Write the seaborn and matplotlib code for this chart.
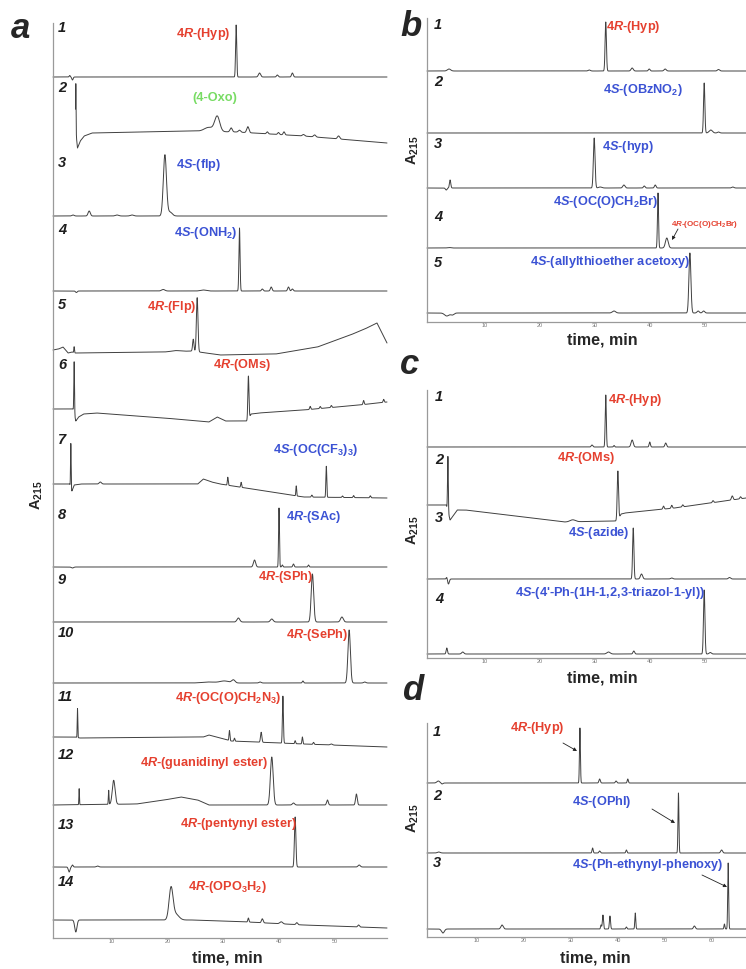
import numpy as np
import pandas as pd
import matplotlib
matplotlib.use("Agg")
import matplotlib.pyplot as plt
import seaborn as sns

# ---------------- DATA (heights in arbitrary A215 units) ----------------
PALETTE = {"red": "#e5402f", "blue": "#3b52d4", "green": "#78dc64"}

# Panel a -------------------------------------------------------------------
A_NUMS = [str(i) for i in range(1, 15)]
A_LABELS = ["4$\\mathit{R}$-(Hyp)", "(4-Oxo)", "4$\\mathit{S}$-(flp)", "4$\\mathit{S}$-(ONH$_\\mathrm{2}$)",
            "4$\\mathit{R}$-(Flp)", "4$\\mathit{R}$-(OMs)", "4$\\mathit{S}$-(OC(CF$_\\mathrm{3}$)$_\\mathrm{3}$)",
            "4$\\mathit{R}$-(SAc)", "4$\\mathit{R}$-(SPh)", "4$\\mathit{R}$-(SePh)",
            "4$\\mathit{R}$-(OC(O)CH$_\\mathrm{2}$N$_\\mathrm{3}$)", "4$\\mathit{R}$-(guanidinyl ester)",
            "4$\\mathit{R}$-(pentynyl ester)", "4$\\mathit{R}$-(OPO$_\\mathrm{3}$H$_\\mathrm{2}$)"]
A_COLORS = ["red", "green", "blue", "blue", "red", "red", "blue", "blue", "red", "red", "red", "red", "red", "red"]
A_START = [0, 4.05, 0, 0, 0, 0, 0, 0, 0, 0, 0, 0, 0, 0]
A_PEAK_T = [[3.0, 3.5, 32.9, 37.1, 40.3, 43.0],
            [4.1, 28.0, 29.5, 32.0, 33.5, 35.0, 38.5, 40.5, 41.5, 45.0, 47.0, 51.3],
            [3.6, 6.5, 11.5, 14.2, 20.1, 21.0],
            [4.2, 19.8, 27.0, 33.5, 37.6, 39.2, 42.3, 43.0],
            [3.8, 22.0, 25.2, 25.9],
            [3.8, 35.1, 46.2, 48.0, 50.0, 55.8, 59.4],
            [3.2, 8.5, 31.4, 33.8, 43.7, 46.5, 49.1, 52.0, 54.0, 57.0],
            [3.5, 36.2, 40.6, 41.2, 43.2, 45.9],
            [33.3, 39.3, 46.6, 51.9],
            [28.0, 30.8, 32.4, 37.2, 44.9, 53.2, 56.0],
            [4.4, 31.7, 32.6, 37.4, 41.3, 43.5, 44.8, 46.8, 50.0],
            [4.7, 10.0, 10.9, 39.3, 43.2, 49.3, 54.5],
            [2.9, 3.5, 8.0, 43.5, 55.0],
            [4.1, 21.2, 22.0, 35.1, 37.6, 41.0, 43.8, 54.9]]
A_PEAK_H = [[1.5, -3, 52, 4, 2, 4],
            [50, 4, 15, 4, 2, 6, 2, 2, 3, 1.5, 2, 3],
            [1, 5, 1, 1, 61, 4],
            [-1.5, 1.5, 1, 63, 2, 4, 4, 2],
            [6, 1, 12, 54],
            [52, 43, 3, 2, 2, 4, 3],
            [44, 2, 8, 5, 10, 2, 31, 1.5, 2, 2],
            [-1, 7, 59, 2, 3, 2],
            [4, 3, 48, 5],
            [1, 2, 3, 1, 2, 53, 1],
            [29, 10, 3, 10, 47, 3, 7, 2, 1],
            [16, 14, 24, 48, 2, 5, 11],
            [-5, 2, 1, 50, 2],
            [-12, 31, 6, 4, 4, 2, 2, 2]]
A_PEAK_W = [[0.1, 0.12, 0.1, 0.2, 0.15, 0.15],
            [0.04, 0.8, 0.45, 0.2, 0.2, 0.2, 0.15, 0.15, 0.15, 0.2, 0.2, 0.2],
            [0.2, 0.2, 0.3, 0.3, 0.28, 0.4],
            [0.15, 0.3, 0.5, 0.1, 0.15, 0.15, 0.15, 0.15],
            [0.06, 0.8, 0.12, 0.14],
            [0.06, 0.1, 0.1, 0.1, 0.1, 0.1, 0.1],
            [0.05, 0.2, 0.08, 0.08, 0.07, 0.1, 0.08, 0.1, 0.1, 0.1],
            [0.2, 0.2, 0.08, 0.1, 0.12, 0.1],
            [0.25, 0.25, 0.22, 0.25],
            [1.2, 0.8, 0.3, 0.2, 0.12, 0.22, 0.2],
            [0.05, 0.08, 0.08, 0.12, 0.09, 0.08, 0.08, 0.1, 0.2],
            [0.05, 0.06, 0.25, 0.25, 0.2, 0.15, 0.15],
            [0.15, 0.12, 0.2, 0.13, 0.2],
            [0.2, 0.35, 0.6, 0.1, 0.15, 0.25, 0.15, 0.15]]
A_BASE_T = [[0, 60], [4.05, 4.2, 4.4, 4.9, 5.6, 7, 15, 25, 33, 45, 60], [0, 60], [0, 60],
            [0, 1, 1.8, 2.7, 3.4, 4.0, 20, 25, 30, 40, 47.5, 53.4, 56, 58.2, 60],
            [0, 3.6, 4.1, 4.6, 5.5, 7.8, 20, 28, 29.5, 31, 34.9, 35.6, 37, 45, 55, 60],
            [0, 3.0, 3.4, 3.8, 5, 26, 27, 28.5, 30, 45, 60],
            [0, 60], [0, 60], [0, 60],
            [0, 4.0, 4.8, 27, 28, 32, 45, 60],
            [0, 15, 20, 23, 26, 28, 60],
            [0, 60],
            [0, 25, 35, 45, 55, 60]]
A_BASE_Y = [[0, 0], [0, -5, -16, -9, -4, -1, 0, 1, 0, -4, -11], [0, 0], [0, 0],
            [3, 4, 6, 0, 1, 0, 1, 2, -2, -1, 6, 18, 24, 30, 10],
            [4, 4, -8, -4, -1, 0, -5, -9, -4, -8, -8, -1, 0, 3, 8, 11],
            [0, 0, -7, -1, 0, 0, 5, 2, 0, -13, -14],
            [0, 0], [0, 0], [0, 0],
            [0, 0, -1, 0, 2, -4, -7, -10],
            [0, 1, 5, 8, 5, 0, 0],
            [0, 0],
            [0, 0, -2, -5, -7, -8]]

# Panel b -------------------------------------------------------------------
B_NUMS = ["1", "2", "3", "4", "5"]
B_LABELS = ["4$\\mathit{R}$-(Hyp)", "4$\\mathit{S}$-(OBzNO$_\\mathrm{2}$)", "4$\\mathit{S}$-(hyp)",
            "4$\\mathit{S}$-(OC(O)CH$_\\mathrm{2}$Br)", "4$\\mathit{S}$-(allylthioether acetoxy)"]
B_COLORS = ["red", "blue", "blue", "blue", "blue"]
B_PEAK_T = [[4.0, 29.5, 32.5, 37.3, 40.4, 43.3, 53.0],
            [50.4, 51.6, 53.0],
            [3.5, 4.2, 30.4, 31.5, 35.8, 39.5, 41.5, 55.6],
            [4.0, 42.0, 43.6],
            [3.6, 4.6, 34.0, 47.8, 49.3, 50.3]]
B_PEAK_H = [[2, 1, 49, 3, 2, 2, 1.5],
            [50, 3, 1],
            [-2, 8, 50, 1, 3, 2, 3, 1],
            [0.5, 55, 10],
            [-3, -2, 2, 60, 2, 2]]
B_PEAK_W = [[0.3, 0.2, 0.12, 0.2, 0.15, 0.2, 0.2],
            [0.12, 0.3, 0.2],
            [0.15, 0.12, 0.15, 0.3, 0.2, 0.15, 0.15, 0.2],
            [0.3, 0.1, 0.25],
            [0.4, 0.3, 0.3, 0.18, 0.2, 0.2]]

# Panel c -------------------------------------------------------------------
C_NUMS = ["1", "2", "3", "4"]
C_LABELS = ["4$\\mathit{R}$-(Hyp)", "4$\\mathit{R}$-(OMs)", "4$\\mathit{S}$-(azide)",
            "4$\\mathit{S}$-(4'-Ph-(1H-1,2,3-triazol-1-yl))"]
C_COLORS = ["red", "red", "blue", "blue"]
C_PEAK_T = [[30.0, 32.5, 34.0, 37.3, 40.5, 43.4],
            [3.8, 26.5, 34.7, 43.0, 44.5, 46.5, 52.0, 55.5, 57.0],
            [3.6, 3.9, 37.5, 39.0, 44.5, 55.0],
            [3.6, 6.5, 33.0, 37.6, 50.4, 51.5]]
C_PEAK_H = [[2, 52, 1.5, 7, 5, 4],
            [55, 2, 49, 3, 3, 2, 2, 4, 2],
            [2, -5, 51, 5, 1, 1.5],
            [6, 2, 2, 3, 64, 1.5]]
C_PEAK_W = [[0.15, 0.1, 0.1, 0.2, 0.12, 0.15],
            [0.07, 0.5, 0.12, 0.12, 0.12, 0.12, 0.12, 0.15, 0.12],
            [0.1, 0.15, 0.12, 0.2, 0.2, 0.2],
            [0.12, 0.2, 0.3, 0.15, 0.13, 0.2]]
C_BASE_T = [[0, 58], [0, 3.5, 4.2, 5.5, 7, 25, 33, 34.6, 35.3, 36, 45, 58], [0, 58], [0, 58]]
C_BASE_Y = [[0, 0], [2, 2, -13, -3, -3, -15, -14, -14, -7, -6, -1, 9], [0, 0], [0, 0]]

# Panel d -------------------------------------------------------------------
D_NUMS = ["1", "2", "3"]
D_LABELS = ["4$\\mathit{R}$-(Hyp)", "4$\\mathit{S}$-(OPhI)", "4$\\mathit{S}$-(Ph-ethynyl-phenoxy)"]
D_COLORS = ["red", "blue", "blue"]
D_PEAK_T = [[2.4, 3.2, 32.6, 36.8, 40.3, 42.8],
            [2.5, 35.3, 36.8, 42.5, 53.6, 62.8],
            [3.4, 16.0, 37.1, 37.5, 39.0, 42.5, 44.4, 57.0, 63.4, 64.2]]
D_PEAK_H = [[2, -1, 55, 4, 2, 4],
            [1, 5, 2, 3, 60, 3],
            [-4, 4, 4, 14, 13, 2, 16, 3, 5, 66]]
D_PEAK_W = [[0.3, 0.2, 0.1, 0.15, 0.15, 0.12],
            [0.3, 0.12, 0.15, 0.12, 0.1, 0.2],
            [0.3, 0.25, 0.1, 0.12, 0.12, 0.12, 0.1, 0.2, 0.1, 0.1]]

TICKS_ABC = [0, 10, 20, 30, 40, 50]
TICKS_D = [0, 10, 20, 30, 40, 50, 60]

# ---------------- FIGURE ----------------
W, H = 746, 969
sns.set_theme(style="white")
plt.rcParams['font.family'] = ['Liberation Sans', 'DejaVu Sans']
plt.rcParams['mathtext.fontset'] = 'custom'
plt.rcParams['mathtext.rm'] = 'Liberation Sans:bold'
plt.rcParams['mathtext.it'] = 'Liberation Sans:bold:italic'
plt.rcParams['mathtext.bf'] = 'Liberation Sans:bold'

fig = plt.figure(figsize=(W / 100, H / 100), dpi=100)
fig.patch.set_facecolor("white")

LINE_COLOR = "#404040"
SPINE_COLOR = "#9a9a9a"
LABEL_SIZE = 9.2


def fx(x):
    return x / W


def fy(y):
    return 1 - y / H


def make_panel(left, right, top, bottom, xmax, ticks):
    ax = fig.add_axes([fx(left), fy(bottom), (right - left) / W, (bottom - top) / H])
    ax.set_xlim(0, xmax)
    ax.set_ylim(0, bottom - top)
    ax.set_facecolor("none")
    for s in ["top", "right"]:
        ax.spines[s].set_visible(False)
    for s in ["left", "bottom"]:
        ax.spines[s].set_color(SPINE_COLOR)
        ax.spines[s].set_linewidth(0.9)
    ax.set_yticks([])
    ax.set_xticks(ticks)
    ax.set_xticklabels([""] + [str(t) for t in ticks[1:]])
    ax.tick_params(axis="x", direction="out", length=4.5, width=0.7, colors=SPINE_COLOR,
                   labelsize=4, labelcolor="#777777", pad=-3.5)
    for lbl in ax.get_xticklabels():
        lbl.set_ha("left")
    ax.grid(False)
    ax._geom = (left, bottom, (right - left) / xmax)
    return ax


def to_data(ax, x_px, y_px):
    left, bottom, ppm = ax._geom
    return (x_px - left) / ppm, bottom - y_px


def draw_trace(ax, offset_px, start, xmax, pt, ph, pw, bt, by):
    t = np.arange(start, xmax + 0.005, 0.01)
    y = np.interp(t, bt, by)
    for c, h, w in zip(pt, ph, pw):
        y = y + h * np.exp(-0.5 * ((t - c) / w) ** 2)
    _, base = to_data(ax, 0, offset_px)
    df = pd.DataFrame({"t": t, "A": y + base})
    sns.lineplot(data=df, x="t", y="A", ax=ax, color=LINE_COLOR, lw=0.7,
                 estimator=None, sort=False, errorbar=None, clip_on=False)


def put_text(ax, x_px, y_px, s, color, size=LABEL_SIZE):
    tx, ty = to_data(ax, x_px, y_px)
    ax.text(tx, ty, s, color=color, fontsize=size, fontweight="bold", ha="left", va="center",
            clip_on=False)


def put_num(ax, x_px, y_px, s):
    tx, ty = to_data(ax, x_px, y_px)
    ax.text(tx, ty, s, color="#1e1e1e", fontsize=10.5, fontweight="bold", fontstyle="italic",
            ha="left", va="center", clip_on=False)


def put_arrow(ax, x0, y0, x1, y1):
    ax.annotate("", xy=to_data(ax, x1, y1), xytext=to_data(ax, x0, y0),
                arrowprops=dict(arrowstyle="-|>", color="#222222", lw=0.6, mutation_scale=5,
                                shrinkA=0, shrinkB=0), annotation_clip=False)


# ----- Panel a -----
axa = make_panel(53, 387, 23, 938, 60, TICKS_ABC)
a_off = [77, 132, 216, 291, 353, 413, 484, 567, 622, 683, 737, 805, 867, 920]
a_num_y = [28, 88, 163, 230, 305, 365, 440, 515, 580, 633, 697, 755, 825, 882]
a_lab_x = [176, 192, 176, 174, 147, 213, 273, 286, 258, 286, 175, 140, 180, 188]
a_lab_y = [34, 98, 165, 233, 307, 365, 450, 517, 577, 635, 698, 763, 824, 887]
for i in range(14):
    draw_trace(axa, a_off[i], A_START[i], 60, A_PEAK_T[i], A_PEAK_H[i], A_PEAK_W[i],
               A_BASE_T[i], A_BASE_Y[i])
    put_num(axa, 58, a_num_y[i], A_NUMS[i])
    put_text(axa, a_lab_x[i], a_lab_y[i], A_LABELS[i], PALETTE[A_COLORS[i]])

# ----- Panel b -----
axb = make_panel(427, 746, 18, 322, 58, TICKS_ABC)
b_off = [71, 133, 188, 248, 313]
b_num_y = [25, 82, 144, 217, 263]
b_lab_x = [606, 603, 602, 553, 530]
b_lab_y = [27, 90, 147, 202, 262]
for i in range(5):
    draw_trace(axb, b_off[i], 0, 58, B_PEAK_T[i], B_PEAK_H[i], B_PEAK_W[i], [0, 58], [0, 0])
    put_num(axb, 434, b_num_y[i], B_NUMS[i])
    put_text(axb, b_lab_x[i], b_lab_y[i], B_LABELS[i], PALETTE[B_COLORS[i]])
put_text(axb, 671, 224, "4$\\mathit{R}$-(OC(O)CH$_\\mathrm{2}$Br)", PALETTE["red"], size=5.8)
put_arrow(axb, 678, 229, 672, 240)

# ----- Panel c -----
axc = make_panel(427, 746, 390, 658, 58, TICKS_ABC)
c_off = [447, 507, 579, 654]
c_num_y = [397, 460, 518, 599]
c_lab_x = [608, 557, 568, 515]
c_lab_y = [400, 458, 533, 593]
for i in range(4):
    draw_trace(axc, c_off[i], 0, 58, C_PEAK_T[i], C_PEAK_H[i], C_PEAK_W[i], C_BASE_T[i], C_BASE_Y[i])
    put_num(axc, 435, c_num_y[i], C_NUMS[i])
    put_text(axc, c_lab_x[i], c_lab_y[i], C_LABELS[i], PALETTE[C_COLORS[i]])

# ----- Panel d -----
axd = make_panel(427, 746, 723, 937, 68, TICKS_D)
d_off = [783, 853, 929]
d_num_y = [732, 796, 863]
d_lab_x = [510, 572, 572]
d_lab_y = [728, 802, 865]
for i in range(3):
    draw_trace(axd, d_off[i], 0, 68, D_PEAK_T[i], D_PEAK_H[i], D_PEAK_W[i], [0, 68], [0, 0])
    put_num(axd, 433, d_num_y[i], D_NUMS[i])
    put_text(axd, d_lab_x[i], d_lab_y[i], D_LABELS[i], PALETTE[D_COLORS[i]])
put_arrow(axd, 563, 743, 577, 751)
put_arrow(axd, 652, 809, 675, 823)
put_arrow(axd, 702, 875, 727, 887)

for ax in (axa, axb, axc, axd):
    ax.set_xlabel("")
    ax.set_ylabel("")

# ----- shared texts -----
for (x, y) in [(227, 958), (602, 340), (602, 678), (595, 958)]:
    fig.text(fx(x), fy(y), "time, min", fontsize=11.5, fontweight="bold", ha="center", va="center")
for (x, y) in [(37, 495), (413, 150), (413, 530), (413, 818)]:
    fig.text(fx(x), fy(y), "A$_\\mathrm{215}$", fontsize=10.5, fontweight="bold", rotation=90,
             ha="center", va="center")
for (x, y, s) in [(11, 28, "a"), (400, 26, "b"), (400, 365, "c"), (402, 690, "d")]:
    fig.text(fx(x), fy(y), s, fontsize=25, fontweight="bold", fontstyle="italic",
             ha="left", va="center")

fig.savefig("out.png", dpi=100, facecolor="white")
